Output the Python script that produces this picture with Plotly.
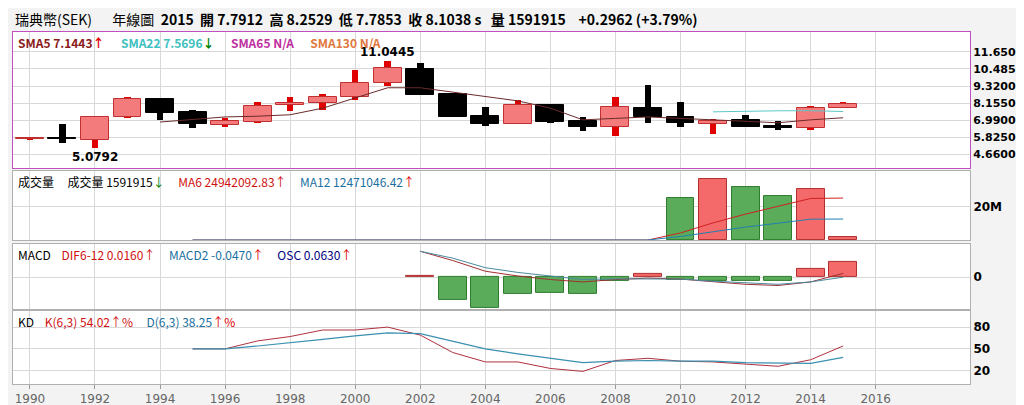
import plotly.graph_objects as go
from plotly.subplots import make_subplots

years = list(range(1990, 2016))
opens = [5.68, 5.75, 5.60, 7.18, 8.43, 7.52, 6.65, 6.85, 8.00, 8.16, 8.55, 9.50, 10.51, 8.77,
         7.25, 6.72, 8.00, 6.90, 6.49, 7.81, 7.20, 6.74, 6.97, 6.58, 6.44, 7.7912]
highs = [5.78, 6.72, 7.22, 8.59, 8.50, 7.66, 7.11, 8.23, 8.57, 8.77, 10.44, 11.0445, 10.90, 8.85,
         7.86, 8.38, 8.05, 7.20, 8.59, 9.41, 8.23, 7.08, 7.36, 6.94, 7.95, 8.2529]
lows = [5.66, 5.42, 5.0792, 7.12, 7.01, 6.44, 6.53, 6.80, 7.61, 7.66, 8.34, 9.30, 8.70, 7.20,
        6.58, 6.70, 6.80, 6.22, 5.88, 6.81, 6.49, 6.03, 6.50, 6.29, 6.33, 7.7853]
closes = [5.74, 5.70, 7.18, 8.43, 7.45, 6.72, 6.90, 7.95, 8.18, 8.59, 9.53, 10.55, 8.73, 7.22,
          6.72, 8.00, 6.85, 6.49, 7.86, 7.22, 6.77, 6.94, 6.53, 6.44, 7.81, 8.1038]

sma5_years = list(range(1994, 2016))
sma5 = [6.85, 7.0, 7.2, 7.25, 7.35, 7.8, 8.5, 9.2, 9.2, 8.9, 8.6, 8.3, 7.8, 7.0, 7.1, 7.2,
        7.1, 7.0, 6.9, 6.8, 7.0, 7.1443]
sma22_years = [2011, 2012, 2013, 2014, 2015]
sma22 = [7.55, 7.6, 7.62, 7.63, 7.5696]

vol_years = list(range(2010, 2016))
volume = [25.1e6, 36.2e6, 31.6e6, 26.4e6, 30.6e6, 1591915]
vol_up = [False, True, False, False, True, True]
ma_years = list(range(1995, 2016))
ma6 = [0] * 15 + [4.2e6, 10.2e6, 15.4e6, 20e6, 24.7e6, 24942092.83]
ma12 = [0] * 15 + [2.1e6, 5.1e6, 7.7e6, 10e6, 12.4e6, 12471046.42]

macd_years = list(range(2002, 2016))
osc = [0.004, -0.095, -0.128, -0.07, -0.068, -0.071, -0.014, 0.012, -0.01, -0.014, -0.014,
       -0.014, 0.033, 0.063]
dif = [0.109, 0.07, 0.025, 0.005, -0.01, -0.02, -0.01, -0.004, -0.008, -0.02, -0.03, -0.035,
       -0.02, 0.016]
macd = [0.109, 0.08, 0.04, 0.02, 0.005, -0.01, -0.007, -0.006, -0.008, -0.017, -0.025, -0.03,
        -0.02, -0.0]

kd_years = list(range(1995, 2016))
k_vals = [50, 50, 61, 67, 76, 76, 80, 69, 45, 32, 32, 23, 19, 34, 37, 33, 32, 29, 26, 35, 54.02]
d_vals = [50, 50, 54, 58, 63, 68, 72, 71, 61, 50, 43, 37, 31, 33, 34, 33, 33, 31, 30, 30, 38.25]

price_ticks = [4.66, 5.825, 6.99, 8.155, 9.32, 10.485, 11.65]
year_ticks = list(range(1990, 2017, 2))

fig = make_subplots(rows=4, cols=1, shared_xaxes=True, vertical_spacing=0.01)

# wicks
up = [c >= o for o, c in zip(opens, closes)]
fig.add_trace(go.Bar(x=years, base=lows, y=[h - l for h, l in zip(highs, lows)], width=0.2,
                     marker=dict(color=['#e00000' if u else '#000000' for u in up], line_width=0)),
              row=1, col=1)
# bodies
fig.add_trace(go.Bar(x=years, base=[min(o, c) for o, c in zip(opens, closes)],
                     y=[max(abs(c - o), 0.06) for o, c in zip(opens, closes)], width=0.86,
                     marker=dict(color=['#f47b7b' if u else '#000000' for u in up],
                                 line=dict(color=['#c03030' if u else '#000000' for u in up], width=1))),
              row=1, col=1)
fig.add_trace(go.Scatter(x=sma5_years, y=sma5, mode='lines', line=dict(color='#6b2a2a', width=1)),
              row=1, col=1)
fig.add_trace(go.Scatter(x=sma22_years, y=sma22, mode='lines', line=dict(color='#5cc8c8', width=1)),
              row=1, col=1)

fig.add_trace(go.Bar(x=vol_years, y=volume, width=0.86,
                     marker=dict(color=['#f46a6a' if u else '#5aab5a' for u in vol_up],
                                 line=dict(color=['#b03030' if u else '#2e7d2e' for u in vol_up], width=1))),
              row=2, col=1)
fig.add_trace(go.Scatter(x=ma_years, y=ma6, mode='lines', line=dict(color='#d02020', width=1)),
              row=2, col=1)
fig.add_trace(go.Scatter(x=ma_years, y=ma12, mode='lines', line=dict(color='#2080b0', width=1)),
              row=2, col=1)

fig.add_trace(go.Bar(x=macd_years, y=osc, width=0.86,
                     marker=dict(color=['#f46a6a' if v > 0 else '#5aab5a' for v in osc],
                                 line=dict(color=['#b03030' if v > 0 else '#2e7d2e' for v in osc], width=1))),
              row=3, col=1)
fig.add_trace(go.Scatter(x=macd_years, y=dif, mode='lines', line=dict(color='#a03030', width=1)),
              row=3, col=1)
fig.add_trace(go.Scatter(x=macd_years, y=macd, mode='lines', line=dict(color='#4a8aa0', width=1)),
              row=3, col=1)

fig.add_trace(go.Scatter(x=kd_years, y=k_vals, mode='lines', line=dict(color='#b03040', width=1)),
              row=4, col=1)
fig.add_trace(go.Scatter(x=kd_years, y=d_vals, mode='lines', line=dict(color='#3a90b0', width=1.2)),
              row=4, col=1)

domains = [[0.6136, 1.0], [0.409, 0.605], [0.213, 0.398], [0.0, 0.207]]
tickfont = dict(family='DejaVu Sans', size=12, color='#000000')
for i, dom in enumerate(domains, start=1):
    fig.update_yaxes(domain=dom, side='right', row=i, col=1, showgrid=True, gridcolor='#d8d8d8',
                     zeroline=False, showline=True, mirror=True, linecolor='#b0b0b0',
                     tickfont=tickfont, ticks='')
    fig.update_xaxes(row=i, col=1, range=[1989.48, 2018.9], showgrid=True, gridcolor='#d8d8d8',
                     tickvals=year_ticks, showline=True, mirror=True, linecolor='#b0b0b0',
                     zeroline=False)
fig.update_yaxes(row=1, col=1, range=[3.70, 13.02], tickvals=price_ticks,
                 ticktext=['<b>%.4f</b>' % v for v in price_ticks], linecolor='#c050c0',
                 tickfont=dict(family='DejaVu Sans', size=11, color='#000000'))
fig.update_xaxes(row=1, col=1, linecolor='#c050c0')
fig.update_yaxes(row=2, col=1, range=[0, 41e6], tickvals=[20e6], ticktext=['<b>20M</b>'])
fig.update_yaxes(row=3, col=1, range=[-0.134, 0.14], tickvals=[0], ticktext=['<b>0</b>'])
fig.update_yaxes(row=4, col=1, range=[1.6, 102], tickvals=[20, 50, 80],
                 ticktext=['<b>20</b>', '<b>50</b>', '<b>80</b>'])
fig.update_xaxes(row=4, col=1, tickfont=dict(family='DejaVu Sans', size=12, color='#666666'),
                 ticks='outside', tickcolor='#999999', ticklen=4)

header = ('瑞典幣(SEK)　  年線圖  <b>2015  開 7.7912  高 8.2529  低 7.7853  收 8.1038 s'
          '   量 1591915    +0.2962 (+3.79%)</b>')
ann = [
    dict(x=0.0, y=1.0, xref='paper', yref='paper', text=header, showarrow=False,
         xanchor='left', yanchor='bottom', yshift=1,
         font=dict(family='Noto Sans CJK TC', size=14, color='#000')),
    dict(x=2001, y=11.0445, xref='x', yref='y', text='<b>11.0445</b>', showarrow=False,
         yanchor='bottom', font=dict(size=12, color='#000', family='DejaVu Sans')),
    dict(x=1992, y=5.0792, xref='x', yref='y', text='<b>5.0792</b>', showarrow=False,
         yanchor='top', font=dict(size=12, color='#000', family='DejaVu Sans')),
]
legends = [
    ('y domain', '<b><span style="color:#8b1a1a">SMA5 7.1443</span><span style="color:#e00000">↑</span>'
     '      <span style="color:#40c0c0">SMA22 7.5696</span><span style="color:#008000">↓</span>'
     '      <span style="color:#c030a0">SMA65 N/A</span>'
     '      <span style="color:#e07840">SMA130 N/A</span></b>'),
    ('y2 domain', '成交量     成交量 <span style="color:#000">1591915</span><span style="color:#008000">↓</span>'
     '     <span style="color:#d01010">MA6 24942092.83↑</span>'
     '     <span style="color:#1a70a0">MA12 12471046.42</span><span style="color:#e00000">↑</span>'),
    ('y3 domain', 'MACD    <span style="color:#d01010">DIF6-12 0.0160↑</span>'
     '     <span style="color:#1a70a0">MACD2 -0.0470</span><span style="color:#e00000">↑</span>'
     '     <span style="color:#000080">OSC 0.0630</span><span style="color:#e00000">↑</span>'),
    ('y4 domain', 'KD    <span style="color:#d01010">K(6,3) 54.02↑%</span>'
     '     <span style="color:#1a70a0">D(6,3) 38.25</span><span style="color:#e00000">↑%</span>'),
]
for yref, txt in legends:
    ann.append(dict(x=0.003, y=1.0, xref='paper', yref=yref, text=txt, showarrow=False,
                    xanchor='left', yanchor='top',
                    font=dict(family='Noto Sans CJK TC', size=12, color='#000')))

fig.update_layout(width=1024, height=405, margin=dict(l=5, r=62, t=24, b=29),
                  paper_bgcolor='#f3f3f3', plot_bgcolor='#ffffff', showlegend=False,
                  barmode='overlay', bargap=0, annotations=ann)
fig.write_html("out.html")
